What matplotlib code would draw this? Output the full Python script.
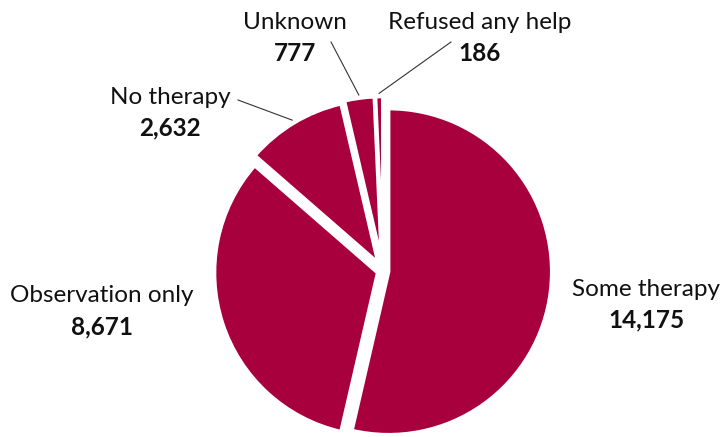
import matplotlib
matplotlib.use("Agg")
import matplotlib.pyplot as plt
import numpy as np

# outcome groups, drawn clockwise from 12 o'clock
categories = ["Some therapy", "Observation only", "No therapy", "Unknown", "Refused any help"]
counts = [14175, 8671, 2632, 777, 186]
value_labels = ["14,175", "8,671", "2,632", "777", "186"]

COLOR = "#A8003D"
W, H = 723, 437
R_PX = 163          # pie radius in pixels
CX, CY = 383, 271   # pie centre in pixels (from top-left)


def px(x, y):
    """pixel position -> data units (pie radius = 1)"""
    return (x - CX) / R_PX, (CY - y) / R_PX


explode = [0.035, 0.035, 0.06, 0.07, 0.07]
# label centres (name line, pixels) and leader line starts for small slices
label_pos = [(646, 289), (102, 296), (170, 97), (295, 22), (480, 22)]
leader_start = [None, None, (238, 100), (331, 42), (451, 42)]

plt.rcParams["font.family"] = ["Lato", "DejaVu Sans"]

fig = plt.figure(figsize=(W / 100, H / 100), dpi=100)
ax = fig.add_axes([0, 0, 1, 1])
wedges, _ = ax.pie(counts, startangle=90, counterclock=False, explode=explode,
                   colors=[COLOR] * len(counts),
                   wedgeprops=dict(edgecolor="white", linewidth=2.5))
ax.set_aspect("equal")
ax.set_xlim(-CX / R_PX, (W - CX) / R_PX)
ax.set_ylim(-(H - CY) / R_PX, CY / R_PX)
ax.axis("off")

for w, name, val, (lx, ly), start in zip(wedges, categories, value_labels, label_pos, leader_start):
    x0, y0 = px(lx, ly)
    x1, y1 = px(lx, ly + 31)
    ax.text(x0, y0, name, ha="center", va="center", fontsize=17.5, color="#111111")
    ax.text(x1, y1, val, ha="center", va="center", fontsize=17.5, fontweight="bold", color="#111111")
    if start is not None:
        theta = np.deg2rad((w.theta1 + w.theta2) / 2)
        cx, cy = w.center
        ex, ey = cx + 1.02 * np.cos(theta), cy + 1.02 * np.sin(theta)
        sx, sy = px(*start)
        ax.plot([sx, ex], [sy, ey], color="#333333", lw=0.8)

fig.savefig("out.png", dpi=100)
